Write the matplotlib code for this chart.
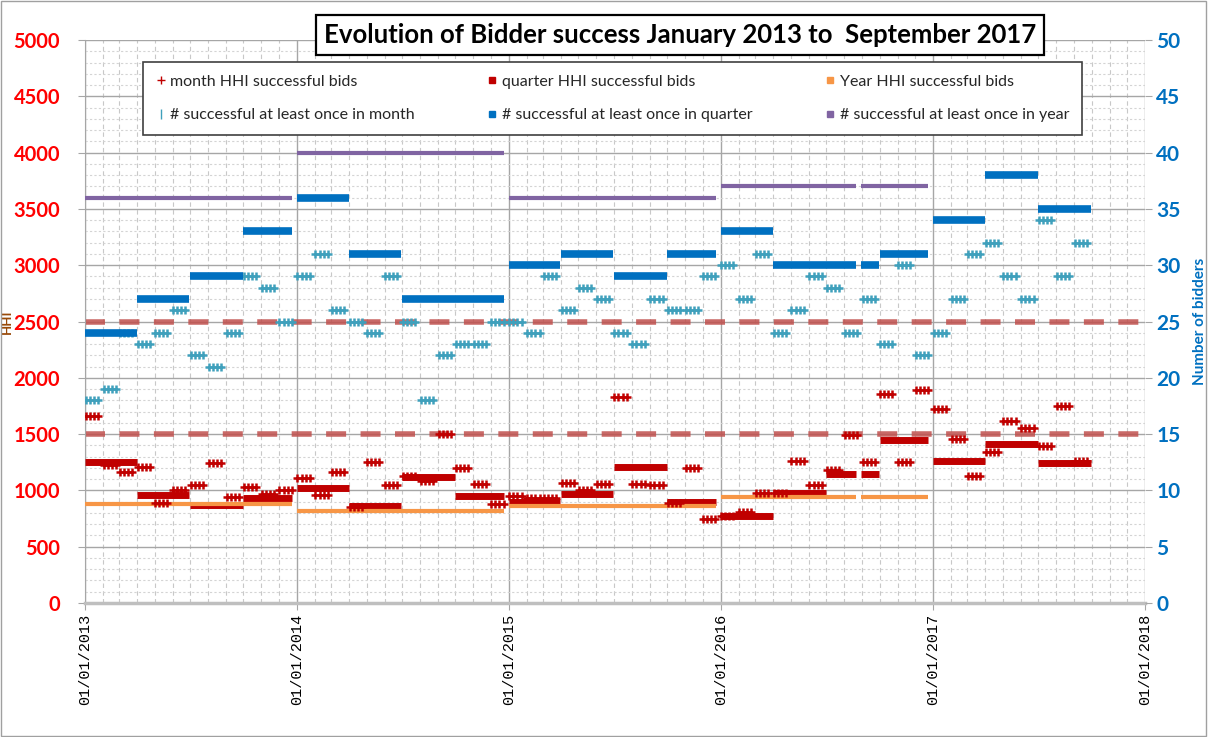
import matplotlib
matplotlib.use('Agg')
import matplotlib.pyplot as plt
import matplotlib.dates as mdates
from matplotlib.ticker import MultipleLocator
from matplotlib.lines import Line2D
from matplotlib.patches import Rectangle
import pandas as pd

plt.rcParams['font.family'] = ['Lato', 'DejaVu Sans']

# ---- data ----
first_month = '2013-01-01'
last_month = '2017-09-01'

month_hhi = [1660, 1225, 1160, 1210, 890, 1000, 1050, 1240, 940, 1030, 970, 1000,
             1110, 960, 1160, 850, 1250, 1050, 1130, 1080, 1500, 1200, 1060, 880,
             950, 930, 930, 1070, 1000, 1060, 1830, 1060, 1050, 890, 1200, 750,
             770, 810, 980, 980, 1260, 1050, 1180, 1490, 1250, 1860, 1250, 1890,
             1720, 1460, 1130, 1340, 1620, 1550, 1390, 1750, 1260]
month_bidders = [18, 19, 24, 23, 24, 26, 22, 21, 24, 29, 28, 25,
                 29, 31, 26, 25, 24, 29, 25, 18, 22, 23, 23, 25,
                 25, 24, 29, 26, 28, 27, 24, 23, 27, 26, 26, 29,
                 30, 27, 31, 24, 26, 29, 28, 24, 27, 23, 30, 22,
                 24, 27, 31, 32, 29, 27, 34, 29, 32]

quarter_start = ['2013-01-01', '2013-04-01', '2013-07-01', '2013-10-01',
                 '2014-01-01', '2014-04-01', '2014-07-01', '2014-10-01',
                 '2015-01-01', '2015-04-01', '2015-07-01', '2015-10-01',
                 '2016-01-01', '2016-04-01', '2016-07-01', '2016-08-29', '2016-10-01',
                 '2017-01-01', '2017-04-01', '2017-07-01']
quarter_end = ['2013-03-31', '2013-06-30', '2013-09-30', '2013-12-24',
               '2014-03-31', '2014-06-30', '2014-09-30', '2014-12-24',
               '2015-03-31', '2015-06-30', '2015-09-30', '2015-12-24',
               '2016-03-31', '2016-06-30', '2016-08-22', '2016-09-30', '2016-12-24',
               '2017-03-31', '2017-06-30', '2017-09-30']
quarter_hhi = [1250, 960, 870, 930,
               1020, 860, 1120, 950,
               900, 970, 1210, 900,
               770, 980, 1150, 1150, 1450,
               1260, 1410, 1240]
quarter_bidders = [24, 27, 29, 33,
                   36, 31, 27, 27,
                   30, 31, 29, 31,
                   33, 30, 30, 30, 31,
                   34, 38, 35]

year_start = ['2013-01-01', '2014-01-01', '2015-01-01', '2016-01-01', '2016-08-29']
year_end = ['2013-12-24', '2014-12-24', '2015-12-24', '2016-08-22', '2016-12-24']
year_hhi = [880, 815, 860, 940, 940]
year_bidders = [36, 40, 36, 37, 37]

hhi_thresholds = [1500, 2500]

title = 'Evolution of Bidder success January 2013 to  September 2017'

# ---- colours ----
c_mhhi = '#C00000'
c_qhhi = '#C00000'
c_yhhi = '#F79646'
c_mbid = '#3FA0BC'
c_qbid = '#0070C0'
c_ybid = '#8064A2'
c_thr = '#C0504D'

months = pd.date_range(first_month, last_month, freq='MS')
week_days = [1, 8, 15, 22]
mx, mh, mb = [], [], []
for m, h, b in zip(months, month_hhi, month_bidders):
    for d in week_days:
        mx.append(m + pd.Timedelta(days=d))
        mh.append(h)
        mb.append(b)

fig = plt.figure(figsize=(12.08, 7.37), dpi=100)
ax = fig.add_axes([85 / 1208, 1 - 603 / 737, 1060 / 1208, 563 / 737])
ax2 = ax.twinx()

x0 = pd.Timestamp('2013-01-01')
x1 = pd.Timestamp('2018-01-01')

ax.hlines(hhi_thresholds, x0, x1, color=c_thr, alpha=0.85, lw=4,
          linestyles=[(0, (3.6, 2.6))], zorder=2)
ax.hlines(quarter_hhi, pd.to_datetime(quarter_start), pd.to_datetime(quarter_end),
          color=c_qhhi, lw=5, zorder=3)
ax.hlines(year_hhi, pd.to_datetime(year_start), pd.to_datetime(year_end),
          color=c_yhhi, lw=3, zorder=4)
ax.plot(mx, mh, ls='none', marker='+', ms=6, mew=1.8, color=c_mhhi, zorder=5)

ax2.plot(mx, mb, ls='none', marker='+', ms=6, mew=1.8, color=c_mbid, zorder=3)
ax2.hlines(quarter_bidders, pd.to_datetime(quarter_start), pd.to_datetime(quarter_end),
           color=c_qbid, lw=5.5, zorder=4)
ax2.hlines(year_bidders, pd.to_datetime(year_start), pd.to_datetime(year_end),
           color=c_ybid, lw=3, zorder=5)

ax.set_xlim(x0, x1)
ax.set_ylim(0, 5000)
ax2.set_ylim(0, 50)

ax.yaxis.set_major_locator(MultipleLocator(500))
ax.yaxis.set_minor_locator(MultipleLocator(100))
ax2.yaxis.set_major_locator(MultipleLocator(5))
ax.xaxis.set_major_locator(mdates.YearLocator())
ax.xaxis.set_minor_locator(mdates.MonthLocator())
ax.xaxis.set_major_formatter(mdates.DateFormatter('%d/%m/%Y'))

ax.grid(which='major', axis='y', color='#A6A6A6', lw=1)
ax.grid(which='minor', axis='y', color='#D4D4D4', lw=0.8, ls=(0, (2, 2)))
ax.grid(which='major', axis='x', color='#A6A6A6', lw=1)
ax.grid(which='minor', axis='x', color='#C8C8C8', lw=0.8, ls=(0, (4, 3)))
ax.set_axisbelow(True)

for s in ['top', 'right']:
    ax.spines[s].set_visible(False)
for s in ['top', 'right', 'left', 'bottom']:
    ax2.spines[s].set_visible(False)
ax.spines['left'].set_color('#A6A6A6')
ax.spines['bottom'].set_color('#BFBFBF')
ax.spines['bottom'].set_linewidth(2.5)

ax.tick_params(axis='y', which='major', length=5, color='#A6A6A6', labelsize=14.5,
               labelcolor='#FF0000', pad=13)
ax.tick_params(axis='y', which='minor', length=0)
ax.tick_params(axis='x', which='major', length=5, color='#A6A6A6', pad=3)
ax.tick_params(axis='x', which='minor', length=0)
ax2.tick_params(axis='y', length=5, color='#A6A6A6', labelsize=15,
                labelcolor=c_qbid, pad=3)
for t in ax.get_yticklabels():
    t.set_fontweight('bold')
for t in ax2.get_yticklabels():
    t.set_fontweight('bold')
for t in ax.get_xticklabels():
    t.set_rotation(90)
    t.set_family('Liberation Mono')
    t.set_fontsize(11)

ax.set_ylabel('HHI', color='#984807', fontsize=9.5, fontweight='bold')
ax.yaxis.set_label_coords(-0.068, 0.5)
ax2.set_ylabel('Number of bidders', color=c_qbid, fontsize=11, fontweight='bold')
ax2.yaxis.set_label_coords(1.045, 0.5)

fig.text(680 / 1208, 1 - 35 / 737, title, ha='center', va='center', fontsize=18.5,
         fontweight='bold', color='black',
         bbox=dict(boxstyle='square,pad=0.3', fc='white', ec='black', lw=1.6))

handles = [
    Line2D([], [], ls='none', marker='+', ms=6, mew=1, color=c_mhhi),
    Line2D([], [], ls='none', marker='|', ms=7, mew=1, color=c_mbid),
    Line2D([], [], ls='none', marker='s', ms=5, color=c_qhhi),
    Line2D([], [], ls='none', marker='s', ms=5, color=c_qbid),
    Line2D([], [], ls='none', marker='s', ms=4, color=c_yhhi),
    Line2D([], [], ls='none', marker='s', ms=4, color=c_ybid),
]
labels = ['month HHI successful bids', '# successful at least once in month',
          'quarter HHI successful bids', '# successful at least once in quarter',
          'Year HHI successful bids', '# successful at least once in year']
leg = fig.legend(handles, labels, ncol=3, loc='upper left', mode='expand',
                 bbox_to_anchor=(143 / 1208, 1 - 131 / 737, 939 / 1208, 69 / 737),
                 fontsize=11.5, frameon=True, fancybox=False, edgecolor='#404040',
                 framealpha=1, handlelength=0.6, handletextpad=0.3,
                 labelspacing=1.2, borderpad=0.8, borderaxespad=0)
leg.get_frame().set_linewidth(1.2)
for t in leg.get_texts():
    t.set_color('#262626')

fig.add_artist(Rectangle((0.001, 0.001), 0.997, 0.997, transform=fig.transFigure,
                         fill=False, ec='#A0A0A0', lw=1))

fig.savefig('out.png', dpi=100)
